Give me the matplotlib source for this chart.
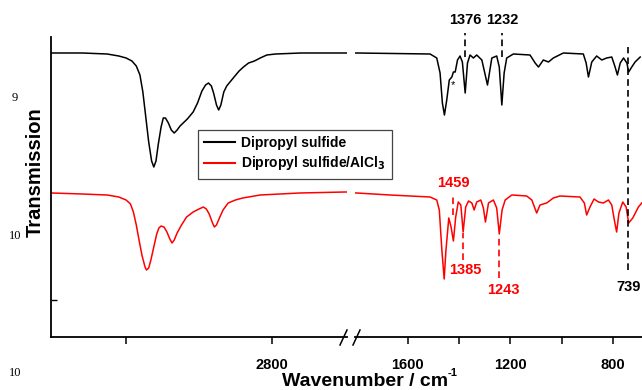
import matplotlib.pyplot as plt
from matplotlib.lines import Line2D

plt.rcParams['font.family'] = ['Liberation Sans', 'DejaVu Sans']
plt.rcParams['font.weight'] = 'bold'

# spectra: wavenumber (cm-1) vs transmission (a.u.)
wn_dps = [3102, 3060, 3026, 3010, 3000, 2992, 2986, 2981, 2977, 2973,
          2969, 2965, 2962, 2959, 2956, 2952, 2949, 2946, 2942, 2938,
          2934, 2930, 2926, 2916, 2908, 2902, 2896, 2891, 2887, 2883,
          2880, 2876, 2873, 2870, 2866, 2862, 2853, 2845, 2839, 2832,
          2824, 2816, 2807, 2795, 2760, 2700,
          1799, 1513, 1487, 1474, 1465, 1457, 1448, 1438, 1428, 1422,
          1415, 1406, 1396, 1387, 1376, 1367, 1357, 1344, 1331, 1311,
          1289, 1272, 1253, 1243, 1233, 1224, 1214, 1188, 1123, 1103,
          1090, 1071, 1051, 1032, 993, 915, 904, 895, 882, 863,
          843, 824, 804, 791, 782, 771, 758, 745, 738, 726,
          713, 693]
t_dps = [284, 284, 283, 281, 279, 276, 271, 262, 245, 220,
         195, 176, 170, 176, 192, 210, 219, 219, 214, 207,
         204, 207, 211, 218, 225, 234, 246, 252, 254, 251,
         244, 232, 227, 232, 245, 251, 259, 266, 270, 274,
         276, 279, 282, 283, 284, 284,
         284, 283, 279, 264, 234, 222, 237, 257, 260, 265,
         265, 277, 281, 275, 244, 274, 282, 279, 282, 277,
         252, 279, 281, 270, 232, 264, 279, 283, 282, 274,
         270, 277, 275, 279, 284, 283, 274, 260, 275, 281,
         277, 279, 280, 270, 262, 274, 279, 274, 265, 270,
         275, 280]

wn_alcl = [3102, 3060, 3026, 3010, 3000, 2994, 2990, 2986, 2982, 2978,
           2974, 2972, 2969, 2966, 2962, 2958, 2955, 2952, 2948, 2944,
           2940, 2937, 2934, 2930, 2924, 2917, 2908, 2900, 2894, 2890,
           2886, 2882, 2879, 2876, 2872, 2867, 2860, 2850, 2840, 2816,
           2762, 2700,
           1799, 1669, 1513, 1487, 1477, 1467, 1458, 1451, 1440, 1431,
           1422, 1413, 1403, 1393, 1384, 1374, 1363, 1350, 1341, 1331,
           1315, 1305, 1297, 1285, 1266, 1253, 1243, 1232, 1220, 1194,
           1136, 1116, 1097, 1084, 1058, 1032, 1006, 928, 911, 902,
           889, 873, 856, 837, 817, 804, 794, 785, 776, 761,
           748, 738, 722, 700, 687]
t_alcl = [144, 143, 142, 140, 137, 133, 125, 112, 96, 81,
          70, 67, 69, 77, 90, 103, 109, 111, 110, 105,
          98, 94, 97, 104, 112, 120, 125, 128, 130, 128,
          123, 115, 110, 112, 119, 127, 134, 137, 139, 142,
          144, 145,
          144, 142, 140, 137, 127, 87, 58, 87, 119, 110,
          96, 120, 135, 132, 105, 130, 136, 134, 127, 135,
          137, 129, 115, 134, 137, 129, 103, 127, 137, 142,
          141, 137, 124, 132, 134, 139, 141, 140, 134, 122,
          130, 138, 135, 134, 137, 132, 117, 105, 124, 135,
          130, 114, 119, 130, 134]

# marked bands: (line position, label text)
black_marks = [(1376, '1376'), (1232, '1232')]
red_marks = [(1422, '1459'), (1384, '1385'), (1243, '1243')]

fig = plt.figure(figsize=(6.42, 3.9), dpi=100)
W, H = 642, 390


def fx(px):
    return px / W


def fy(py):
    return 1 - py / H


ax1 = fig.add_axes([fx(51), fy(337), fx(296), 300 / H])
ax2 = fig.add_axes([fx(355), fy(337), fx(287), 300 / H])

for ax in (ax1, ax2):
    ax.set_facecolor('none')
    ax.plot(wn_dps, t_dps, color='black', lw=1.1)
    ax.plot(wn_alcl, t_alcl, color='red', lw=1.1)
    ax.set_ylim(0, 300)
    for s in ('top', 'right'):
        ax.spines[s].set_visible(False)
    ax.spines['bottom'].set_linewidth(1.3)
    ax.tick_params(axis='x', direction='out', length=5, width=1.1,
                   pad=10, labelsize=10.5)

ax1.set_xlim(3103, 2697)
ax2.set_xlim(1806, 686)
ax2.spines['left'].set_visible(False)
ax1.spines['left'].set_linewidth(1.3)

ax1.set_xticks([3000, 2800])
ax1.set_xticklabels(['', '2800'])
ax2.set_xticks([1600, 1400, 1200, 1000, 800])
ax2.set_xticklabels(['1600', '', '1200', '', '800'])
ax1.set_yticks([37])
ax1.set_yticklabels([])
ax1.tick_params(axis='y', direction='in', length=4, width=1)
ax2.set_yticks([])

# dashed markers
fs = 10.5
dash = dict(lw=1.2, linestyles=(0, (4, 2.5)), clip_on=False)
for wn, lab in black_marks:
    ax2.vlines(wn, 280, 304, color='black', **dash)
    ax2.text(wn, 317, lab, ha='center', va='center', fontsize=fs)
ax2.vlines(739, 67, 290, color='black', **dash)
ax2.text(739, 50, '739', ha='center', va='center', fontsize=fs)

ax2.vlines(red_marks[0][0], 122, 142, color='red', **dash)
ax2.text(red_marks[0][0], 154, red_marks[0][1], color='red',
         ha='center', va='center', fontsize=fs)
ax2.vlines(red_marks[1][0], 77, 104, color='red', **dash)
ax2.text(1374, 67, red_marks[1][1], color='red',
         ha='center', va='center', fontsize=fs)
ax2.vlines(red_marks[2][0], 59, 100, color='red', **dash)
ax2.text(1228, 47, red_marks[2][1], color='red',
         ha='center', va='center', fontsize=fs)
ax2.text(1422, 252, '*', ha='center', va='center', fontsize=8,
         fontweight='normal')

# axis break marks
for x0 in (340, 353):
    fig.add_artist(Line2D([fx(x0), fx(x0 + 7)], [fy(345), fy(330)],
                          color='black', lw=1.1))

handles = [Line2D([], [], color='black', lw=1.5),
           Line2D([], [], color='red', lw=1.5)]
leg = fig.legend(handles, ['Dipropyl sulfide', 'Dipropyl sulfide/AlCl$_3$'],
                 loc='upper left', bbox_to_anchor=(fx(198), fy(130)),
                 borderaxespad=0, fancybox=False, fontsize=10,
                 handlelength=2.2, handletextpad=0.45, borderpad=0.45,
                 labelspacing=0.3, edgecolor='#444444', framealpha=1)
leg.get_frame().set_linewidth(0.9)

fig.text(fx(35), fy(172), 'Transmission', rotation=90, ha='center',
         va='center', fontsize=14.5)
fig.text(fx(365), fy(386), 'Wavenumber / cm', ha='center',
         va='baseline', fontsize=14)
fig.text(fx(448), fy(376), '-1', ha='left', va='baseline', fontsize=8)

# stray labels on the left margin
for py, s in ((98, '9'), (236, '10'), (373, '10')):
    fig.text(fx(15), fy(py), s, ha='center', va='center', fontsize=9,
             fontweight='normal', family=['Liberation Serif', 'DejaVu Serif'])

fig.savefig('out.png', dpi=100)
